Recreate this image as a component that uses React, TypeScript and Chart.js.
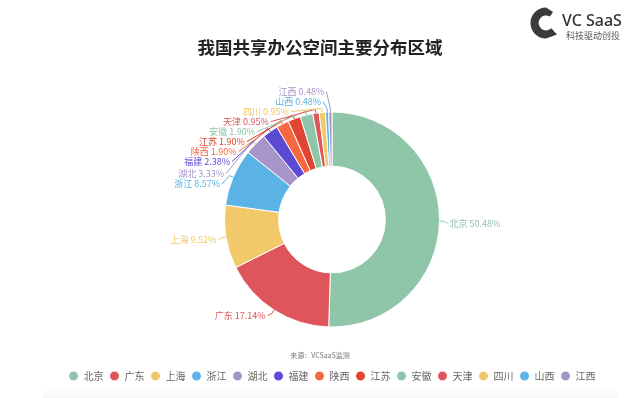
import React, { useEffect, useRef } from 'react';
import { Chart, registerables } from 'chart.js';

Chart.register(...registerables);

// ---- data ----
const regions = ['北京', '广东', '上海', '浙江', '湖北', '福建', '陕西', '江苏', '安徽', '天津', '四川', '山西', '江西'];
const shares = [50.48, 17.14, 9.52, 8.57, 3.33, 2.38, 1.9, 1.9, 1.9, 0.95, 0.95, 0.48, 0.48];
const palette = ['#8fc6a9', '#de565b', '#f1c86a', '#5bb3e5', '#a795c9', '#5a4bd2', '#f7683f', '#df4533'];
const sliceColors = regions.map((_, i) => palette[i % palette.length]);

const titleText = '我国共享办公空间主要分布区域';
const sourceText = '来源：VCSaaS监测';
const brandName = 'VC SaaS';
const brandSlogan = '科技驱动创投';

const FONT = '"Noto Sans CJK SC", "Noto Sans", sans-serif';

type LabelItem = {
  x1: number; y1: number; x2: number; y2: number;
  x: number; y: number; height: number; len: number; len2: number;
  dir: number; text: string; color: string;
};

function adjustSingleSide(list: LabelItem[], cx: number, cy: number, r: number, dir: number, viewTop: number, viewHeight: number) {
  list.sort((a, b) => a.y - b.y);
  function shiftUp(end: number, delta: number) {
    for (let j = end; j >= 0; j--) {
      if (list[j].y - delta < viewTop) break;
      list[j].y -= delta;
      if (j > 0 && list[j].y > list[j - 1].y + list[j - 1].height) break;
    }
  }
  function shiftDown(start: number, end: number, delta: number) {
    for (let j = start; j < end; j++) {
      if (list[j].y + delta > viewTop + viewHeight) break;
      list[j].y += delta;
      if (j > start && j + 1 < end && list[j + 1].y > list[j].y + list[j].height) {
        shiftUp(j, delta / 2);
        return;
      }
    }
    shiftUp(end - 1, delta / 2);
  }
  function changeX(items: LabelItem[], isDown: boolean) {
    let lastDeltaX = isDown ? Number.MAX_VALUE : 0;
    for (let i = 0; i < items.length; i++) {
      const it = items[i];
      const deltaY = Math.abs(it.y - cy);
      const R = r + it.len + it.len2;
      let deltaX = deltaY < r + it.len ? Math.sqrt(R * R - deltaY * deltaY) : Math.abs(it.x - cx);
      if (isDown && deltaX >= lastDeltaX) deltaX = lastDeltaX - 10;
      if (!isDown && deltaX <= lastDeltaX) deltaX = lastDeltaX + 10;
      it.x = cx + deltaX * dir;
      lastDeltaX = deltaX;
    }
  }
  let lastY = 0;
  const len = list.length;
  for (let i = 0; i < len; i++) {
    const delta = list[i].y - lastY;
    if (delta < 0) shiftDown(i, len, -delta);
    lastY = list[i].y + list[i].height;
  }
  if (viewHeight - lastY < 0) shiftUp(len - 1, lastY - viewHeight);
  const up: LabelItem[] = [];
  const down: LabelItem[] = [];
  list.forEach((it) => (it.y >= cy ? down : up).push(it));
  changeX(up, false);
  changeX(down, true);
}

const outerLabels = {
  id: 'outerLabels',
  afterDatasetsDraw(chart: any) {
    const meta = chart.getDatasetMeta(0);
    const arcs = meta.data;
    if (!arcs || !arcs.length) return;
    const ctx = chart.ctx;
    const cx = arcs[0].x;
    const cy = arcs[0].y;
    const r = arcs[0].outerRadius;
    const LEN = 4, LEN2 = 4, GAP = 2, H = 10;
    const labels: string[] = chart.data.labels;
    const values: number[] = chart.data.datasets[0].data;
    const colors: string[] = chart.data.datasets[0].backgroundColor;
    const items: LabelItem[] = arcs.map((arc: any, i: number) => {
      const a = (arc.startAngle + arc.endAngle) / 2;
      const dx = Math.cos(a);
      const dy = Math.sin(a);
      const dir = dx < 0 ? -1 : 1;
      const x2 = cx + (r + LEN) * dx;
      const y2 = cy + (r + LEN) * dy;
      return {
        x1: cx + r * dx, y1: cy + r * dy, x2, y2,
        x: x2 + dir * LEN2, y: y2 + 2, height: H, len: LEN, len2: LEN2, dir,
        text: `${labels[i]} ${values[i].toFixed(2)}%`, color: colors[i],
      };
    });
    const left = items.filter((d) => d.dir < 0);
    const right = items.filter((d) => d.dir > 0);
    adjustSingleSide(left, cx, cy, r, -1, 0, chart.height);
    adjustSingleSide(right, cx, cy, r, 1, 0, chart.height);

    ctx.save();
    ctx.font = `9px ${FONT}`;
    ctx.textBaseline = 'middle';
    ctx.lineWidth = 1;
    items.forEach((it) => {
      ctx.strokeStyle = it.color;
      ctx.beginPath();
      ctx.moveTo(it.x1, it.y1);
      ctx.lineTo(it.x2, it.y2);
      ctx.lineTo(it.x, it.y);
      ctx.stroke();
      ctx.fillStyle = it.color;
      ctx.textAlign = it.dir < 0 ? 'right' : 'left';
      ctx.fillText(it.text, it.x + it.dir * GAP, it.y);
    });
    ctx.restore();
  },
};

export default function App() {
  const canvasRef = useRef<HTMLCanvasElement | null>(null);

  useEffect(() => {
    if (!canvasRef.current) return;
    const chart = new Chart(canvasRef.current, {
      type: 'doughnut',
      data: {
        labels: regions,
        datasets: [
          {
            data: shares,
            backgroundColor: sliceColors,
            borderColor: '#ffffff',
            borderWidth: 1,
          },
        ],
      },
      options: {
        responsive: false,
        animation: false,
        events: [],
        radius: 107.5,
        cutout: 72,
        layout: { padding: { top: 74, bottom: 7, left: 24, right: 0 } },
        plugins: {
          title: { display: false },
          tooltip: { enabled: false },
          legend: {
            display: true,
            position: 'bottom',
            labels: {
              usePointStyle: true,
              pointStyle: 'circle',
              boxWidth: 10,
              boxHeight: 7,
              padding: 6,
              color: '#666666',
              font: { size: 10, family: FONT },
            },
          },
        },
      } as any,
      plugins: [outerLabels],
    });
    return () => chart.destroy();
  }, []);

  return (
    <div
      style={{
        position: 'fixed',
        left: 0,
        top: 0,
        width: 640,
        height: 398,
        background: '#ffffff',
        overflow: 'hidden',
        fontFamily: FONT,
      }}
    >
      <div
        style={{
          position: 'absolute',
          left: 43,
          top: 388,
          width: 574,
          height: 10,
          background: 'linear-gradient(to bottom, #ffffff, #f6f6f6)',
        }}
      />
      <canvas ref={canvasRef} width={640} height={398} style={{ position: 'absolute', left: 0, top: 0, display: 'block' }} />
      <div
        style={{
          position: 'absolute',
          left: 0,
          top: 35,
          width: 640,
          textAlign: 'center',
          fontSize: 17.5,
          lineHeight: '24px',
          fontWeight: 700,
          color: '#222222',
        }}
      >
        {titleText}
      </div>
      <div
        style={{
          position: 'absolute',
          left: 0,
          top: 350,
          width: 640,
          textAlign: 'center',
          fontSize: 7,
          lineHeight: '10px',
          color: '#777777',
        }}
      >
        {sourceText}
      </div>
      <svg width={34} height={38} viewBox="0 0 34 38" style={{ position: 'absolute', left: 526, top: 4 }}>
        <path
          d="M20 3.5 A15.5 15.5 0 0 0 20 34.5 L31 30.5 L25.3 24.3 A7.5 7.5 0 1 1 24 12.5 L27 8 Z"
          fill="#3b3b3b"
        />
      </svg>
      <div
        style={{
          position: 'absolute',
          left: 562,
          top: 10,
          fontSize: 16,
          lineHeight: '21px',
          fontWeight: 500,
          color: '#333333',
          fontFamily: '"Noto Sans", sans-serif',
          whiteSpace: 'nowrap',
        }}
      >
        {brandName}
      </div>
      <div
        style={{
          position: 'absolute',
          left: 566,
          top: 30,
          fontSize: 9,
          lineHeight: '11px',
          color: '#555555',
          whiteSpace: 'nowrap',
        }}
      >
        {brandSlogan}
      </div>
    </div>
  );
}
